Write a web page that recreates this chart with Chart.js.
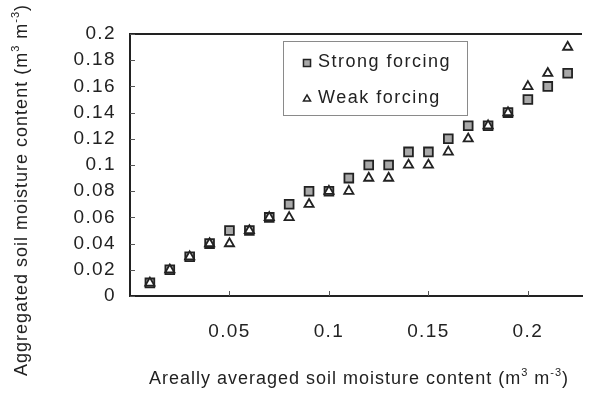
<!DOCTYPE html>
<html>
<head>
<meta charset="utf-8">
<script src="https://cdn.jsdelivr.net/npm/chart.js@4.4.1/dist/chart.umd.min.js"></script>
<style>
  html, body { margin: 0; padding: 0; background: #fff; }
  #wrap { width: 590px; height: 393px; }
</style>
</head>
<body>
<div id="wrap"><canvas id="moistureChart"></canvas></div>
<script>
// areally averaged soil moisture (x) and aggregated values for both forcings
const arealMean = [0.01, 0.02, 0.03, 0.04, 0.05, 0.06, 0.07, 0.08, 0.09, 0.10, 0.11,
                   0.12, 0.13, 0.14, 0.15, 0.16, 0.17, 0.18, 0.19, 0.20, 0.21, 0.22];
const strongForcing = [0.01, 0.02, 0.03, 0.04, 0.05, 0.05, 0.06, 0.07, 0.08, 0.08, 0.09,
                       0.10, 0.10, 0.11, 0.11, 0.12, 0.13, 0.13, 0.14, 0.15, 0.16, 0.17];
const weakForcing = [0.01, 0.02, 0.03, 0.04, 0.04, 0.05, 0.06, 0.06, 0.07, 0.08, 0.08,
                     0.09, 0.09, 0.10, 0.10, 0.11, 0.12, 0.13, 0.14, 0.16, 0.17, 0.19];
const seriesNames = ['Strong forcing', 'Weak forcing'];
const xTickValues = [0.05, 0.1, 0.15, 0.2];
const xTickLabels = ['0.05', '0.1', '0.15', '0.2'];
const yTickValues = [0, 0.02, 0.04, 0.06, 0.08, 0.1, 0.12, 0.14, 0.16, 0.18, 0.2];
const yTickLabels = ['0', '0.02', '0.04', '0.06', '0.08', '0.1', '0.12', '0.14', '0.16', '0.18', '0.2'];
const xTitle = [['Areally averaged soil moisture content (m', 0], ['3', 1], [' m', 0], ['-3', 1], [')', 0]];
const yTitle = [['Aggregated soil moisture content (m', 0], ['3', 1], [' m', 0], ['-3', 1], [')', 0]];

const ink = '#222222';
const FONT = 'Liberation Sans, Arial, sans-serif';

function toPoints(ys) {
    return arealMean.map((x, i) => ({ x: x, y: ys[i] }));
}

// writes a line of text with raised superscript parts, centred on (0,0)
function superText(ctx, parts, size, spacing) {
    const small = Math.round(size * 0.62);
    let widths = parts.map(p => {
        ctx.font = (p[1] ? small : size) + 'px ' + FONT;
        ctx.letterSpacing = spacing + 'px';
        return ctx.measureText(p[0]).width;
    });
    const total = widths.reduce((a, b) => a + b, 0);
    let x = -total / 2;
    ctx.textAlign = 'left';
    ctx.textBaseline = 'alphabetic';
    parts.forEach((p, i) => {
        ctx.font = (p[1] ? small : size) + 'px ' + FONT;
        ctx.fillText(p[0], x, p[1] ? -size * 0.45 : 0);
        x += widths[i];
    });
}

const textSpacing = {
    id: 'textSpacing',
    beforeDraw(chart) {
        chart.ctx.letterSpacing = '1.4px';
    }
};

const frame = {
    id: 'frame',
    afterDraw(chart) {
        const ctx = chart.ctx;
        const a = chart.chartArea;
        const xs = chart.scales.x, ys = chart.scales.y;
        ctx.save();
        // top edge of the plot box
        ctx.strokeStyle = ink;
        ctx.lineWidth = 2;
        ctx.beginPath();
        ctx.moveTo(a.left - 1, a.top);
        ctx.lineTo(a.right, a.top);
        ctx.stroke();
        // inward tick marks
        ctx.lineWidth = 1;
        ctx.strokeStyle = '#555';
        ctx.beginPath();
        yTickValues.forEach(v => {
            const y = Math.round(ys.getPixelForValue(v)) + 0.5;
            ctx.moveTo(a.left, y);
            ctx.lineTo(a.left + 5, y);
        });
        xTickValues.forEach(v => {
            const x = Math.round(xs.getPixelForValue(v)) + 0.5;
            ctx.moveTo(x, a.bottom);
            ctx.lineTo(x, a.bottom - 5);
        });
        ctx.stroke();

        // axis titles
        ctx.fillStyle = ink;
        ctx.save();
        ctx.translate(359, 384);
        superText(ctx, xTitle, 18, 1);
        ctx.restore();
        ctx.save();
        ctx.translate(27, 190);
        ctx.rotate(-Math.PI / 2);
        superText(ctx, yTitle, 18, 1.0);
        ctx.restore();

        // legend box
        ctx.letterSpacing = '1.5px';
        ctx.strokeStyle = '#8a8a8a';
        ctx.lineWidth = 1;
        ctx.strokeRect(283.5, 41.5, 184, 74);
        const rows = [62, 98];
        chart.data.datasets.forEach((ds, i) => {
            ctx.fillStyle = ds.pointBackgroundColor;
            ctx.strokeStyle = ds.pointBorderColor;
            ctx.lineWidth = 1.5;
            Chart.helpers.drawPoint(ctx, {
                pointStyle: ds.pointStyle,
                radius: ds.pointRadius - 1.2,
                rotation: 0,
                borderWidth: 1.5
            }, 307, rows[i] + 1);
            ctx.fillStyle = ink;
            ctx.font = '18px ' + FONT;
            ctx.textAlign = 'left';
            ctx.textBaseline = 'middle';
            ctx.fillText(seriesNames[i], 318, rows[i]);
        });
        ctx.restore();
    }
};

const config = {
    type: 'scatter',
    data: {
        datasets: [{
            label: seriesNames[0],
            data: toPoints(strongForcing),
            pointStyle: 'rect',
            pointRadius: 6.2,
            pointBackgroundColor: '#a9a9a9',
            pointBorderColor: ink,
            pointBorderWidth: 1.8,
            order: 2
        }, {
            label: seriesNames[1],
            data: toPoints(weakForcing),
            pointStyle: 'triangle',
            pointRadius: 5.3,
            pointBackgroundColor: '#ffffff',
            pointBorderColor: ink,
            pointBorderWidth: 1.8,
            order: 1
        }]
    },
    options: {
        responsive: true,
        maintainAspectRatio: false,
        animation: false,
        layout: { padding: { top: 34, right: 0, left: 0, bottom: 0 } },
        scales: {
            x: {
                type: 'linear',
                min: 0,
                max: 0.2272,
                afterBuildTicks: function(scale) {
                    scale.ticks = xTickValues.map(v => ({ value: v }));
                },
                afterFit: function(scale) {
                    scale.height = 97;
                },
                grid: { display: false },
                border: { display: true, color: ink, width: 2 },
                ticks: {
                    padding: 16,
                    color: ink,
                    font: { family: FONT, size: 19 },
                    maxRotation: 0,
                    callback: function(value, index) {
                        return xTickLabels[index];
                    }
                }
            },
            y: {
                type: 'linear',
                min: 0,
                max: 0.2,
                afterBuildTicks: function(scale) {
                    scale.ticks = yTickValues.map(v => ({ value: v }));
                },
                afterFit: function(scale) {
                    scale.width = 130;
                },
                grid: { display: false },
                border: { display: true, color: ink, width: 2 },
                ticks: {
                    padding: 6,
                    color: ink,
                    font: { family: FONT, size: 19 },
                    callback: function(value, index) {
                        return yTickLabels[index];
                    }
                }
            }
        },
        plugins: {
            legend: { display: false },
            tooltip: { enabled: false }
        }
    }
};

const ctx = document.getElementById('moistureChart').getContext('2d');
new Chart(ctx, { ...config, plugins: [textSpacing, frame] });
</script>
</body>
</html>
